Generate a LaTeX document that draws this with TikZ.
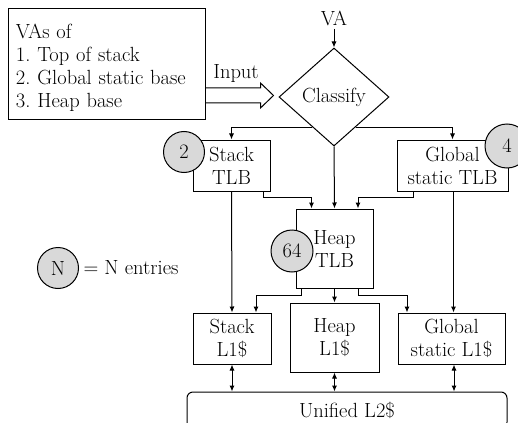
\documentclass[tikz,border=0pt]{standalone}
\usepackage{xcolor}
\usetikzlibrary{arrows.meta, calc, shapes.geometric}
\definecolor{cntgray}{HTML}{D9D9D9}
\tikzset{
  blk/.style={draw, line width=1pt, align=center, inner sep=0pt},
  cnt/.style={circle, draw, line width=1pt, fill=cntgray, inner sep=0pt, minimum size=41},
  flow/.style={-{Latex[length=6pt,width=5pt]}, line width=1pt},
  both/.style={{Latex[length=6pt,width=5pt]}-{Latex[length=6pt,width=5pt]}, line width=1pt},
  every node/.append style={font=\fontsize{20.5}{23}\selectfont}
}
\frenchspacing

\begin{document}
\begin{tikzpicture}[x=1pt, y=-1pt]
\useasboundingbox (0,0) rectangle (518,422);
\clip (0,0) rectangle (518,422);
% input and classifier
\node[blk, align=left, text width=181pt, minimum height=105, inner sep=8pt] (vas) at (106.5,64.5)
  {\rule{0pt}{22pt}VAs of\\1. Top of stack\\2. Global static base\\3. Heap base};
\node (va) at (334,18) {VA};
\node[blk, diamond, minimum width=110, minimum height=98] (cls) at (334,97) {Classify};
\node (inlbl) at (236,73) {Input};
\draw[line width=1pt] ($(vas.east)+(0,23.5)$) -- ++(55,0) -- ++(0,-5) -- ++(13,12.5)
  -- ++(-13,12.5) -- ++(0,-5) -- ++(-55,0);
% TLBs
\node[blk, minimum width=77, minimum height=51] (stk) at (231.5,165.5) {Stack\\TLB};
\node[blk, minimum width=111, minimum height=51] (glb) at (452.5,165.5) {Global\\static TLB};
\node[blk, minimum width=77, minimum height=79] (hpt) at (334.5,248.5) {Heap\\TLB};
% L1 caches
\node[blk, minimum width=78, minimum height=51] (sl1) at (232,338.5) {Stack\\L1\$};
\node[blk, minimum width=89, minimum height=69] (hl1) at (334.5,337.5) {Heap\\L1\$};
\node[blk, minimum width=107, minimum height=51] (gl1) at (451.5,338.5) {Global\\static L1\$};
\node[blk, rounded corners=6pt, minimum width=320, minimum height=36] (l2) at (347,410) {Unified L2\$};
% connectors
\draw[flow] (va) -- (cls.north);
\draw[flow] ($(cls.south)!0.39!(cls.west)$) -| (stk.north);
\draw[flow] ($(cls.south)!0.39!(cls.east)$) -| (glb.north);
\draw[flow] (cls.south) -- (hpt.north);
\draw[flow] ($(stk.south east)+(-7,0)$) -- ++(0,6) -| ($(hpt.north)+(-23,0)$);
\draw[flow] ($(glb.south west)+(17,0)$) -- ++(0,6) -| ($(hpt.north)+(23.5,0)$);
\draw[flow] (stk.south) -- (sl1.north);
\draw[flow] ($(glb.south)+(1,0)$) -- ($(gl1.north)+(2,0)$);
\draw[flow] ($(hpt.south west)+(6,0)$) -- ++(0,7) -| ($(sl1.north)+(24,0)$);
\draw[flow] (hpt.south) -- (hl1.north);
\draw[flow] ($(hpt.south east)+(-15,0)$) -- ++(0,7) -| ($(gl1.north)+(-44.5,0)$);
\draw[both] (sl1.south) -- (sl1.south |- l2.north);
\draw[both] (hl1.south) -- (hl1.south |- l2.north);
\draw[both] ($(gl1.south)+(2.5,0)$) -- ($(gl1.south |- l2.north)+(2.5,0)$);
% entry counts
\node[cnt] (c2) at (184,152) {2};
\node[cnt, minimum size=44] (c4) at (507,146) {4};
\node[cnt, minimum size=42] (c64) at (292,251) {64};
\node[cnt] (cN) at (58,268) {N};
\node[anchor=west] (nlbl) at ($(cN.east)+(1,0)$) {= N entries};
\end{tikzpicture}
\end{document}
